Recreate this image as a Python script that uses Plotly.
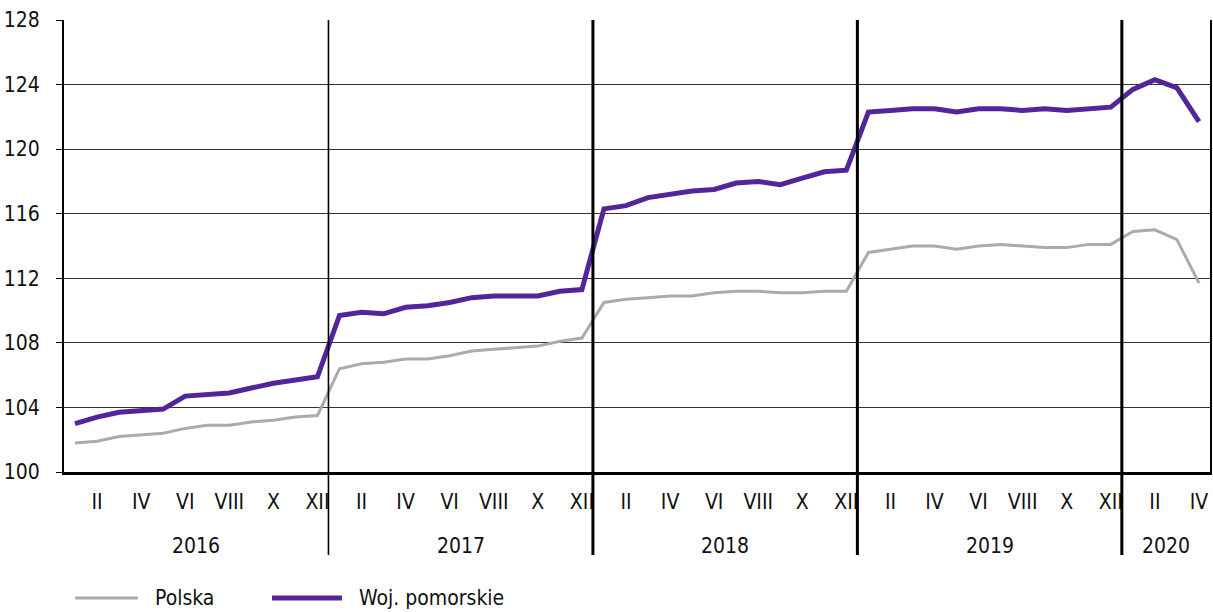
import plotly.graph_objects as go

years = ["2016", "2017", "2018", "2019", "2020"]
months_per_year = [12, 12, 12, 12, 4]
roman = ["I", "II", "III", "IV", "V", "VI", "VII", "VIII", "IX", "X", "XI", "XII"]

polska = [
    101.8, 101.9, 102.2, 102.3, 102.4, 102.7, 102.9, 102.9, 103.1, 103.2, 103.4, 103.5,
    106.4, 106.7, 106.8, 107.0, 107.0, 107.2, 107.5, 107.6, 107.7, 107.8, 108.1, 108.3,
    110.5, 110.7, 110.8, 110.9, 110.9, 111.1, 111.2, 111.2, 111.1, 111.1, 111.2, 111.2,
    113.6, 113.8, 114.0, 114.0, 113.8, 114.0, 114.1, 114.0, 113.9, 113.9, 114.1, 114.1,
    114.9, 115.0, 114.4, 111.7,
]
pomorskie = [
    103.0, 103.4, 103.7, 103.8, 103.9, 104.7, 104.8, 104.9, 105.2, 105.5, 105.7, 105.9,
    109.7, 109.9, 109.8, 110.2, 110.3, 110.5, 110.8, 110.9, 110.9, 110.9, 111.2, 111.3,
    116.3, 116.5, 117.0, 117.2, 117.4, 117.5, 117.9, 118.0, 117.8, 118.2, 118.6, 118.7,
    122.3, 122.4, 122.5, 122.5, 122.3, 122.5, 122.5, 122.4, 122.5, 122.4, 122.5, 122.6,
    123.7, 124.3, 123.8, 121.7,
]
series_names = ["Polska", "Woj. pomorskie"]

# build month index and labels
month_labels = []
for n in months_per_year:
    month_labels += roman[:n]
idx = list(range(len(month_labels)))
tickvals = [i for i, m in zip(idx, month_labels) if roman.index(m) % 2 == 1]
ticktext = [month_labels[i] for i in tickvals]

FONT = "Liberation Sans Narrow, DejaVu Sans Condensed, Roboto, sans-serif"
GRAY = "#ABABAB"
PURPLE = "#52259A"
W, H = 1213, 612
ML, MR, MT, MB = 64, 3, 20, 140
PW, PH = W - ML - MR, H - MT - MB


def px2paper_x(px):
    return (px - ML) / PW


def px2paper_y(py):
    return (H - MB - py) / PH


fig = go.Figure()
fig.add_trace(go.Scatter(x=idx, y=polska, mode="lines", name=series_names[0],
                         line=dict(color=GRAY, width=3), showlegend=False))
fig.add_trace(go.Scatter(x=idx, y=pomorskie, mode="lines", name=series_names[1],
                         line=dict(color=PURPLE, width=5), showlegend=False))

n_total = len(idx)
shapes = []
annotations = []
start = 0
for k, (yr, n) in enumerate(zip(years, months_per_year)):
    center = start + (n - 1) / 2
    annotations.append(dict(x=center, xref="x", y=px2paper_y(546), yref="paper", text=yr,
                            showarrow=False, font=dict(size=21, color="#111", family=FONT),
                            xanchor="center", yanchor="middle"))
    if k > 0:
        xp = start / n_total
        shapes.append(dict(type="line", xref="paper", yref="paper", x0=xp, x1=xp,
                           y0=px2paper_y(555), y1=1,
                           line=dict(color="black", width=1.6 if k == 1 else 3)))
    start += n

# custom legend (line samples + text)
leg_y = px2paper_y(598)
legend_items = [(series_names[0], GRAY, 3, 75, 138, 153),
                (series_names[1], PURPLE, 5, 272, 342, 357)]
for name, col, lw, x0, x1, tx in legend_items:
    shapes.append(dict(type="line", xref="paper", yref="paper",
                       x0=px2paper_x(x0), x1=px2paper_x(x1), y0=leg_y, y1=leg_y,
                       line=dict(color=col, width=lw)))
    annotations.append(dict(x=px2paper_x(tx), xref="paper", y=leg_y, yref="paper", text=name,
                            showarrow=False, xanchor="left", yanchor="middle",
                            font=dict(size=21, color="#111", family=FONT)))

fig.update_layout(
    width=W, height=H,
    margin=dict(l=ML, r=MR, t=MT, b=MB),
    paper_bgcolor="white", plot_bgcolor="white",
    font=dict(family=FONT, size=20, color="#111"),
    shapes=shapes, annotations=annotations,
    showlegend=False,
)
fig.update_xaxes(range=[-0.5, n_total - 0.5], tickvals=tickvals, ticktext=ticktext,
                 showgrid=False, zeroline=False, showline=True, linecolor="black", linewidth=2.5,
                 ticks="", ticklabelstandoff=9, automargin=False,
                 tickfont=dict(size=21, family=FONT, color="#111"))
fig.update_yaxes(range=[100, 128], dtick=4, tick0=100, showgrid=True, gridcolor="#333333",
                 gridwidth=1.2, zeroline=False, showline=True, linecolor="black", linewidth=2,
                 mirror=True, ticks="outside", ticklen=6, tickcolor="black", automargin=False,
                 ticklabelstandoff=12,
                 tickfont=dict(size=21, family=FONT, color="#111"))

fig.write_html("out.html", config={"displayModeBar": False},
               post_script="document.body.style.margin='0';")
